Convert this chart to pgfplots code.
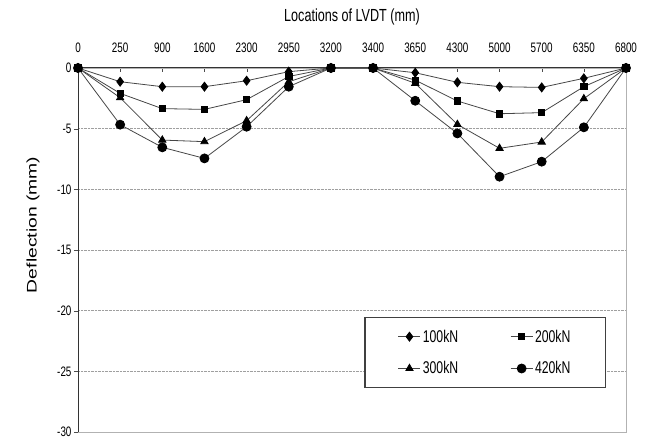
\documentclass[border=0pt]{standalone}
\usepackage{fontspec}
\setmainfont{Liberation Sans}[FakeStretch=0.72]
\newfontfamily\ylfont{Liberation Sans}[FakeStretch=1.39]
\usepackage{pgfplots}
\pgfplotsset{compat=1.18}
\usepackage{pgfplotstable}

\pgfplotstableread{
x a b c d
0 0 0 0 0
1 -1.13 -2.09 -2.45 -4.67
2 -1.54 -3.35 -5.94 -6.54
3 -1.54 -3.41 -6.07 -7.45
4 -1.05 -2.61 -4.34 -4.84
5 -0.30 -0.70 -1.13 -1.54
6 0 0 0 0
7 0 0 0 0
8 -0.39 -1.00 -1.26 -2.70
9 -1.18 -2.72 -4.65 -5.39
10 -1.54 -3.77 -6.62 -8.96
11 -1.60 -3.68 -6.10 -7.72
12 -0.85 -1.54 -2.53 -4.89
13 0 0 0 0
}\data

\begin{document}
\begin{tikzpicture}
\begin{axis}[name=ax, scale only axis, width=548bp, height=364bp,
  xmin=0, xmax=13, ymin=-30, ymax=0,
  xtick={0,...,13},
  xticklabels={0,250,900,1600,2300,2950,3200,3400,3650,4300,5000,5700,6350,6800},
  xticklabel pos=upper, xtick pos=upper,
  ytick={0,-5,...,-30}, ytick pos=left,
  /pgf/number format/assume math mode=true,
  tick label style={font=\fontsize{13.7bp}{15bp}\selectfont},
  xticklabel style={yshift=12bp},
  yticklabel style={xshift=-3bp},
  major tick length=4bp,
  ytick style={xshift=-4bp, black!70},
  xtick style={black!70},
  ymajorgrids, grid style={densely dotted, gray!75},
  axis line style={gray!60},
  xlabel={Locations of LVDT (mm)},
  xlabel style={at={(axis description cs:0.5,1.14)}, anchor=center, font=\fontsize{17.5bp}{19bp}\selectfont},
  ylabel={Deflection (mm)},
  ylabel style={at={(axis description cs:-0.082,0.569)}, anchor=center, font=\ylfont\fontsize{13.9bp}{15bp}\selectfont},
  every axis plot/.append style={gray!55!black, line width=0.8bp, mark options={solid, fill=black, draw=black}},
  legend image code/.code={\draw[mark repeat=2,mark phase=2,#1] plot coordinates {(0bp,0bp) (11bp,0bp) (22bp,0bp)};},
  legend style={at={(axis description cs:0.9635,0.1209)}, anchor=south east, draw=black!75, line width=1.2bp,
    font=\fontsize{17bp}{18bp}\selectfont, legend columns=2,
    /tikz/every even column/.append style={column sep=50bp},
    row sep=14bp, inner xsep=33bp, inner ysep=10bp},
  legend cell align=left,
]
\draw[black!80, line width=1bp] (axis description cs:0,0) -- (axis description cs:0,1) -- (axis description cs:1,1);
\addplot[mark=diamond*, mark size=4.5bp] table[x=x,y=a] {\data};
\addplot[mark=square*, mark size=3.2bp] table[x=x,y=b] {\data};
\addplot[mark=triangle*, mark size=4.2bp] table[x=x,y=c] {\data};
\addplot[mark=*, mark size=4.5bp] table[x=x,y=d] {\data};
\legend{100kN,200kN,300kN,420kN}
\end{axis}
\pgfresetboundingbox
\path ([shift={(-78bp,-7bp)}]ax.south west) rectangle ([shift={(27bp,68bp)}]ax.north east);
\end{tikzpicture}
\end{document}
